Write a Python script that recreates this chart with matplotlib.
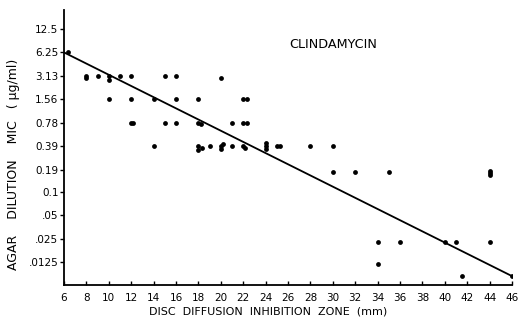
import matplotlib
matplotlib.use("Agg")
import matplotlib.pyplot as plt
import numpy as np

# Y tick values (MIC, µg/ml) and labels
mic_ticks = [0.0125, 0.025, 0.05, 0.1, 0.19, 0.39, 0.78, 1.56, 3.13, 6.25, 12.5]
mic_labels = [".0125", ".025", ".05", "0.1", "0.19", "0.39", "0.78", "1.56", "3.13", "6.25", "12.5"]
x_ticks = list(range(6, 47, 2))

# Data points: disc zone (mm) and MIC (µg/ml)
zone = [6.4,
        8, 8, 9, 10, 10, 11, 12, 15, 16, 20,
        10, 12, 14, 16, 18, 22, 22.3,
        12, 12.2, 15, 16, 18, 18.2, 21, 22, 22.3,
        14, 18, 18, 18.3, 19, 20, 20, 20.2, 21, 22, 22.2, 24, 24, 24, 25, 25.3, 28, 30,
        30, 32, 35, 44, 44, 44,
        34, 36, 40, 41, 44,
        34,
        41.5, 46]
mic = [6.25,
       3.13, 2.9, 3.13, 3.13, 2.75, 3.13, 3.13, 3.13, 3.13, 2.95,
       1.56, 1.56, 1.56, 1.56, 1.56, 1.56, 1.56,
       0.78, 0.78, 0.78, 0.78, 0.78, 0.74, 0.78, 0.78, 0.78,
       0.39, 0.39, 0.35, 0.37, 0.39, 0.39, 0.36, 0.41, 0.39, 0.39, 0.37, 0.39, 0.36, 0.42, 0.39, 0.39, 0.39, 0.39,
       0.18, 0.18, 0.18, 0.185, 0.175, 0.167,
       0.0228, 0.0228, 0.0228, 0.0228, 0.0228,
       0.0118,
       0.0082, 0.0082]

# Regression line endpoints
line_zone = [6, 46]
line_mic = [6.25, 0.0082]

fig = plt.figure(figsize=(5.28, 3.26), dpi=100)
ax = fig.add_axes([64/528, 41/326, 448/528, 275/326])

ax.set_yscale("log", base=2)
ax.plot(line_zone, line_mic, color="black", lw=1.3, solid_capstyle="butt")
ax.scatter(zone, mic, s=12, color="black", zorder=3, linewidths=0)

ax.set_xlim(6, 46)
ax.set_ylim(0.0063, 22)
ax.set_xticks(x_ticks)
ax.set_xticklabels([str(v) for v in x_ticks], fontsize=7.5)
ax.set_yticks(mic_ticks)
ax.set_yticklabels(mic_labels, fontsize=7.5)
ax.yaxis.set_minor_locator(matplotlib.ticker.NullLocator())

for s in ["top", "right"]:
    ax.spines[s].set_visible(False)
ax.spines["left"].set_linewidth(1.3)
ax.spines["bottom"].set_linewidth(1.3)
ax.tick_params(axis="y", direction="out", length=3, width=1, pad=1)
ax.tick_params(axis="x", direction="in", length=3, width=1, pad=6)

fig.text(333/528, 1 - 45/326, "CLINDAMYCIN", fontsize=9.2, ha="center", va="center")
fig.text(268/528, 1 - 312/326, "DISC  DIFFUSION  INHIBITION  ZONE  (mm)", fontsize=8,
         ha="center", va="center")
fig.text(14/528, 1 - 164/326, "AGAR    DILUTION    MIC   ( \u03bcg/ml)", fontsize=9,
         ha="center", va="center", rotation=90)

fig.savefig("out.png", dpi=100)
